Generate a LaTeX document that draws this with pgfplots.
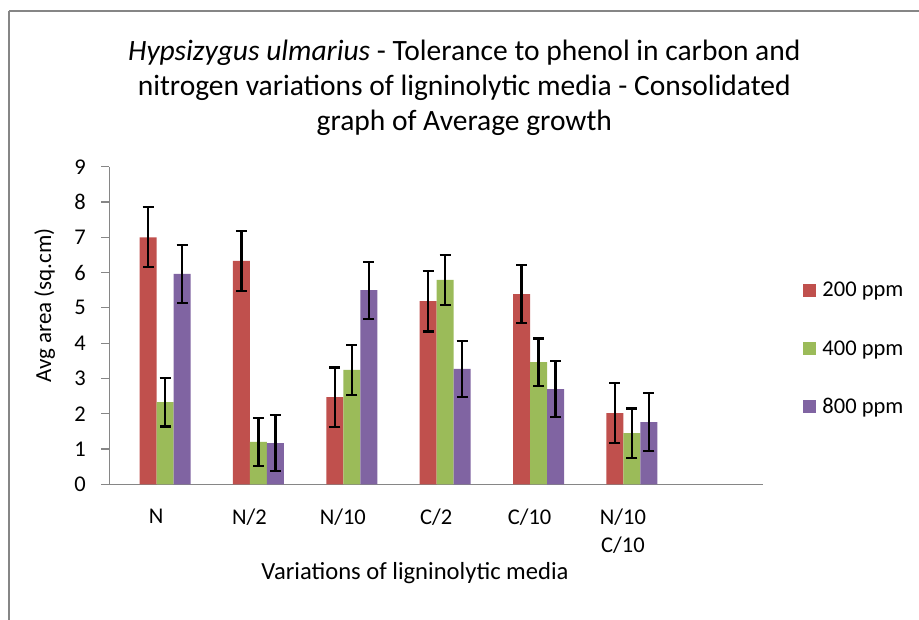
\documentclass[border=0pt]{standalone}
\usepackage{pgfplots}
\pgfplotsset{compat=1.18}
\usepackage{fontspec}
\setmainfont{Carlito}
\definecolor{cred}{HTML}{C0504D}
\definecolor{cgreen}{HTML}{9BBB59}
\definecolor{cpurple}{HTML}{8064A2}
\definecolor{axgray}{HTML}{868686}
\begin{document}
\begin{tikzpicture}
\path[use as bounding box] (0,0) rectangle (919bp,620bp);
\draw[axgray, line width=2.5bp] (9bp,609bp) -- (919bp,609bp);
\draw[axgray, line width=1.5bp] (9bp,609bp) -- (9bp,0bp);
\begin{axis}[
  at={(109.4bp,135.7bp)}, anchor=south west,
  scale only axis, width=653.6bp, height=317.6bp,
  font=\fontsize{22.5bp}{28bp}\selectfont,
  ybar, bar width=17bp,
  xmin=-0.5, xmax=6.5, ymin=0, ymax=9,
  axis x line=bottom, axis y line=left,
  axis line style={-, axgray, line width=1.2bp},
  xtick={0,1,2,3,4,5},
  xticklabels={N, N/2, N/10, C/2, C/10, {N/10\\C/10}},
  xtick style={draw=none},
  minor xtick={-0.5,0.5,1.5,2.5,3.5,4.5,5.5,6.5},
  minor x tick style={axgray, line width=1.2bp},
  ytick={0,1,...,9},
  y tick style={axgray, line width=1.2bp},
  tick align=outside, major tick length=8bp, minor tick length=8bp,
  /pgf/number format/assume math mode=true,
  every tick label/.append style={font=\fontsize{22.5bp}{28bp}\selectfont},
  xticklabel style={align=center, yshift=-13bp},
  yticklabel style={xshift=-12bp},
  ylabel={Avg area (sq.cm)},
  ylabel style={at={(axis description cs:-0.0989,0.563)}, anchor=center, font=\fontsize{23bp}{26bp}\selectfont},
  xlabel={Variations of ligninolytic media},
  xlabel style={at={(axis description cs:0.4676,-0.281)}, anchor=center, font=\fontsize{24.6bp}{28bp}\selectfont},
  title={\textit{Hypsizygus ulmarius} - Tolerance to phenol in carbon and\\nitrogen variations of ligninolytic media - Consolidated\\graph of Average growth},
  title style={at={(axis description cs:0.543,1.229)}, anchor=center, align=center, font=\fontsize{29.5bp}{35bp}\selectfont},
  legend style={at={(axis description cs:1.057,0.649)}, anchor=north west, draw=none, fill=none,
    font=\fontsize{22.5bp}{24bp}\selectfont, row sep=38bp, legend cell align=left,
    /tikz/every odd column/.style={column sep=4bp}},
  legend image code/.code={\fill[#1] (0bp,-6.5bp) rectangle (13bp,6.5bp);},
  error bars/y dir=both, error bars/y explicit,
  error bars/error bar style={black, line width=2.2bp},
  error bars/error mark options={rotate=90, mark size=5.5bp, line width=2.2bp, black},
]
\addplot[fill=cred, draw=none, bar shift=-8bp] coordinates {
 (0,7.00) +- (0,0.85)
 (1,6.33) +- (0,0.85)
 (2,2.47) +- (0,0.84)
 (3,5.19) +- (0,0.86)
 (4,5.39) +- (0,0.83)
 (5,2.02) +- (0,0.84)
};
\addplot[fill=cgreen, draw=none, bar shift=9bp] coordinates {
 (0,2.33) +- (0,0.69)
 (1,1.20) +- (0,0.69)
 (2,3.24) +- (0,0.70)
 (3,5.79) +- (0,0.70)
 (4,3.46) +- (0,0.67)
 (5,1.45) +- (0,0.70)
};
\addplot[fill=cpurple, draw=none, bar shift=26bp] coordinates {
 (0,5.96) +- (0,0.82)
 (1,1.17) +- (0,0.80)
 (2,5.50) +- (0,0.81)
 (3,3.27) +- (0,0.80)
 (4,2.70) +- (0,0.80)
 (5,1.76) +- (0,0.82)
};
\legend{200 ppm, 400 ppm, 800 ppm}
\end{axis}
\end{tikzpicture}
\end{document}
